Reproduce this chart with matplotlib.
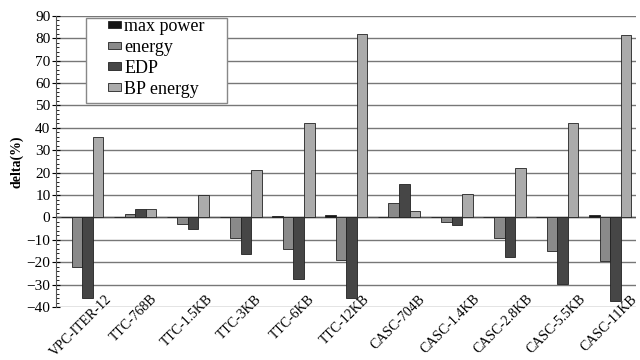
import numpy as np
import matplotlib
matplotlib.use('Agg')
import matplotlib.pyplot as plt
import matplotlib.transforms as mtransforms
from matplotlib.patches import Rectangle
from matplotlib.ticker import MultipleLocator

categories = ['VPC-ITER-12', 'TTC-768B', 'TTC-1.5KB', 'TTC-3KB', 'TTC-6KB', 'TTC-12KB',
              'CASC-704B', 'CASC-1.4KB', 'CASC-2.8KB', 'CASC-5.5KB', 'CASC-11KB']
max_power = [0.0, 0.0, 0.0, 0.2, 0.5, 1.0, 0.0, 0.0, 0.2, 0.3, 1.0]
energy = [-22, 1.5, -3, -9, -14, -19, 6.5, -2, -9, -15, -19.5]
edp = [-36, 4, -5, -16.5, -27.5, -36, 15, -3.5, -17.5, -29.5, -37.5]
bp_energy = [36, 4, 10, 21, 42, 82, 3, 10.5, 22, 42, 81.5]

series = [('max power', max_power, '#151515'),
          ('energy', energy, '#8a8a8a'),
          ('EDP', edp, '#464646'),
          ('BP energy', bp_energy, '#ababab')]

plt.rcParams['font.family'] = ['Liberation Serif', 'DejaVu Serif']

fig = plt.figure(figsize=(6.4, 3.6), dpi=100)
ax = fig.add_axes([0.0875, 0.147, 0.907, 0.809])

x = np.arange(len(categories))
w = 0.2
for i, (name, vals, col) in enumerate(series):
    ax.bar(x + (i - 1.5) * w, vals, w, color=col, edgecolor='#222222',
           linewidth=0.6, label=name, zorder=3)

ax.set_xlim(-0.5, len(categories) - 0.5)
ax.set_ylim(-40, 90)
ax.yaxis.set_major_locator(MultipleLocator(10))
ax.yaxis.set_minor_locator(MultipleLocator(2))
ax.grid(axis='y', color='#777777', linewidth=1.0, zorder=0)
ax.axhline(0, color='#555555', linewidth=1.0, zorder=2)

ax.set_xticks(x)
ax.set_xticklabels(categories, rotation=45, ha='center', fontsize=10)
ax.tick_params(axis='x', length=0, pad=-10.5)
# nudge the slanted labels a little left, as in the original
shift = mtransforms.ScaledTranslation(-1 / 100, 0, fig.dpi_scale_trans)
for lbl in ax.get_xticklabels():
    lbl.set_transform(lbl.get_transform() + shift)
ax.tick_params(axis='y', which='major', direction='inout', length=6, labelsize=11, pad=1)
ax.tick_params(axis='y', which='minor', direction='in', length=2)

for s in ['top', 'right', 'bottom']:
    ax.spines[s].set_visible(False)
ax.spines['left'].set_color('#555555')

ax.set_ylabel('delta(%)', fontsize=10, fontweight='bold', labelpad=2)

# legend box drawn separately so its padding matches the original
box = Rectangle((86 / 640, 1 - 103 / 360), 141 / 640, 85 / 360,
                transform=fig.transFigure, facecolor='white', edgecolor='#888888',
                linewidth=1.0, zorder=4)
ax.add_patch(box)
box.set_clip_on(False)

leg = ax.legend(loc='upper left', bbox_to_anchor=(108 / 640, 1 - 18 / 360),
                bbox_transform=fig.transFigure, fontsize=13, frameon=False,
                handlelength=0.7, handleheight=0.3, handletextpad=0.2,
                borderpad=0, labelspacing=0.22, borderaxespad=0)
leg.set_zorder(5)

fig.savefig('out.png', dpi=100)
